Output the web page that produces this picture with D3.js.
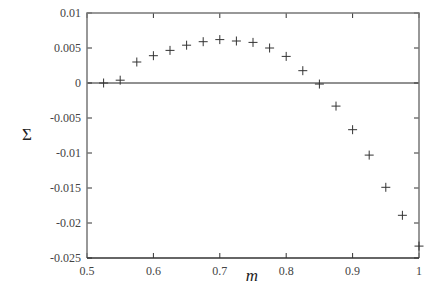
<!DOCTYPE html>
<html>
<head>
    <script src="https://d3js.org/d3.v7.min.js"></script>
    <style>
        body { margin: 0; background: #fff; }
        text { font-family: "Liberation Serif", "DejaVu Serif", serif; }
    </style>
</head>
<body>
    <svg id="chart" width="436" height="294"></svg>
    <script>
        // m values and Sigma values
        const mValues = [0.525, 0.55, 0.575, 0.6, 0.625, 0.65, 0.675, 0.7, 0.725, 0.75,
                         0.775, 0.8, 0.825, 0.85, 0.875, 0.9, 0.925, 0.95, 0.975, 1.0];
        const sigmaValues = [0.0, 0.0004, 0.003, 0.0039, 0.00466, 0.0054, 0.0059, 0.0062, 0.006, 0.0058,
                             0.005, 0.0038, 0.00176, -0.00015, -0.0033, -0.00667, -0.0103, -0.0149, -0.0189, -0.0233];
        const xTicks = [0.5, 0.6, 0.7, 0.8, 0.9, 1];
        const yTicks = [0.01, 0.005, 0, -0.005, -0.01, -0.015, -0.02, -0.025];

        const svg = d3.select('#chart');
        const margin = { left: 87, right: 17, top: 13, bottom: 36 };
        const width = 436, height = 294;

        const x = d3.scaleLinear().domain([0.5, 1]).range([margin.left, width - margin.right]);
        const y = d3.scaleLinear().domain([-0.025, 0.01]).range([height - margin.bottom, margin.top]);

        // zero line
        svg.append('line')
            .attr('x1', x(0.5)).attr('x2', x(1))
            .attr('y1', y(0)).attr('y2', y(0))
            .attr('stroke', '#222').attr('stroke-width', 1);

        // ticks (inward, on all sides)
        const tickLen = 5;
        xTicks.forEach(t => {
            svg.append('line').attr('x1', x(t)).attr('x2', x(t))
                .attr('y1', y(-0.025)).attr('y2', y(-0.025) - tickLen)
                .attr('stroke', '#333').attr('stroke-width', 1);
            svg.append('line').attr('x1', x(t)).attr('x2', x(t))
                .attr('y1', y(0.01)).attr('y2', y(0.01) + tickLen)
                .attr('stroke', '#333').attr('stroke-width', 1);
            svg.append('text')
                .attr('x', x(t)).attr('y', y(-0.025) + 17)
                .attr('text-anchor', 'middle')
                .attr('font-size', '12px').attr('fill', '#444')
                .text(t);
        });
        yTicks.forEach(t => {
            svg.append('line').attr('x1', x(0.5)).attr('x2', x(0.5) + tickLen)
                .attr('y1', y(t)).attr('y2', y(t))
                .attr('stroke', '#333').attr('stroke-width', 1);
            svg.append('line').attr('x1', x(1)).attr('x2', x(1) - tickLen)
                .attr('y1', y(t)).attr('y2', y(t))
                .attr('stroke', '#333').attr('stroke-width', 1);
            svg.append('text')
                .attr('x', x(0.5) - 6).attr('y', y(t) + 4)
                .attr('text-anchor', 'end')
                .attr('font-size', '12px').attr('fill', '#444')
                .text(t);
        });

        // border
        const x0 = x(0.5), x1 = x(1), y0 = y(-0.025), y1 = y(0.01);
        svg.append('path')
            .attr('d', `M${x0},${y0} L${x0},${y1} L${x1},${y1} L${x1},${y0}`)
            .attr('fill', 'none').attr('stroke', '#777').attr('stroke-width', 1.5);
        svg.append('line')
            .attr('x1', x0).attr('x2', x1).attr('y1', y0).attr('y2', y0)
            .attr('stroke', '#333').attr('stroke-width', 1.5);

        // points as plus markers
        const s = 4.5;
        svg.append('g').selectAll('path')
            .data(mValues.map((m, i) => [m, sigmaValues[i]]))
            .join('path')
            .attr('d', d => `M${x(d[0]) - s},${y(d[1])} h${2 * s} M${x(d[0])},${y(d[1]) - s} v${2 * s}`)
            .attr('stroke', '#333').attr('stroke-width', 1).attr('fill', 'none');

        // axis labels
        svg.append('text')
            .attr('x', 27).attr('y', 140)
            .attr('text-anchor', 'middle')
            .attr('font-size', '17px').attr('fill', '#222')
            .text('Σ');
        svg.append('text')
            .attr('x', 252).attr('y', 281)
            .attr('text-anchor', 'middle')
            .attr('font-size', '17px').attr('font-style', 'italic').attr('fill', '#222')
            .text('m');
    </script>
</body>
</html>
